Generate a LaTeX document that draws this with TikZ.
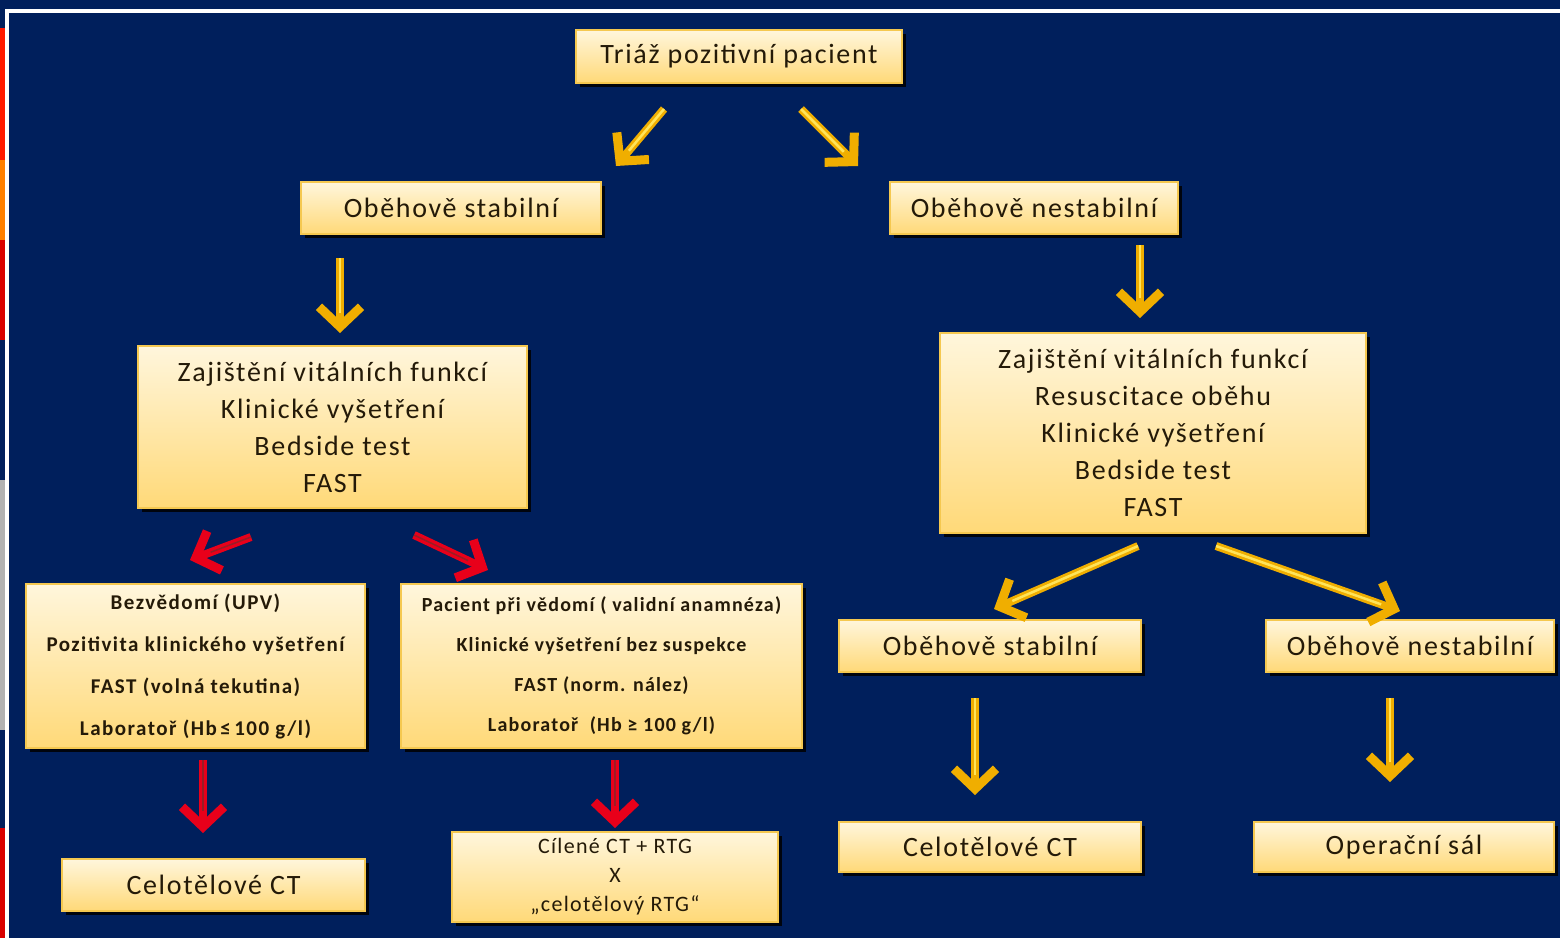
\documentclass[tikz,border=0pt]{standalone}
\usepackage{fontspec}
\setmainfont{Carlito}
\newfontfamily\spaced[LetterSpace=6]{Carlito}
\newfontfamily\spacedb[LetterSpace=7]{Carlito}
\usetikzlibrary{arrows.meta,shadows}
\definecolor{navy}{HTML}{001F5C}
\definecolor{cream}{HTML}{FFF6DC}
\definecolor{yel}{HTML}{FFD978}
\definecolor{boxedge}{HTML}{F5C850}
\definecolor{txt}{HTML}{241A08}
\definecolor{gold}{HTML}{F0AE00}
\definecolor{goldin}{HTML}{FFE45A}
\definecolor{redar}{HTML}{E8001A}
\definecolor{redin}{HTML}{FF3040}
\tikzset{
  box/.style={draw=boxedge, line width=1.5pt, top color=cream, bottom color=yel,
    inner sep=0pt, align=center, text=txt,
    drop shadow={shadow xshift=4pt, shadow yshift=-4pt, fill=black, opacity=0.85}},
  big/.style={font=\spaced\fontsize{28}{37}\selectfont},
  mid/.style={font=\spaced\fontsize{28}{30}\selectfont},
  garrow/.style={draw=gold, line width=8pt,
    -{Straight Barb[length=20pt, width=42pt, line width=9pt]},
    postaction={draw=goldin, line width=2.5pt, shorten >=20pt, -}},
  rarrow/.style={draw=redar, line width=8pt,
    -{Straight Barb[length=20pt, width=42pt, line width=9pt]},
    postaction={draw=redin!60!black, line width=1.5pt, shorten >=22pt, -}},
}
\begin{document}
\begin{tikzpicture}[x=1pt, y=-1pt]
\useasboundingbox (0,0) rectangle (1560,938);
\fill[navy] (0,0) rectangle (1560,938);
% left strip fragments
\fill[red!80!orange] (0,28) rectangle (5,160);
\fill[orange] (0,160) rectangle (5,240);
\fill[red!85!black] (0,240) rectangle (5,340);
\fill[gray!60] (0,480) rectangle (5,730);
\fill[red!85!black] (0,828) rectangle (5,938);
% white frame lines
\fill[white] (5,9) rectangle (1560,13);
\fill[white] (5,9) rectangle (9,938);

% nodes
\node[box, mid, minimum width=326pt, minimum height=53pt] (triaz) at (739,56.5) {Triáž pozitivní pacient};
\node[box, mid, minimum width=300pt, minimum height=52pt] (stabL) at (451,208) {Oběhově stabilní};
\node[box, mid, minimum width=288pt, minimum height=52pt] (nestR) at (1034,208) {Oběhově nestabilní};
\node[box, big, minimum width=389pt, minimum height=162pt] (vitL) at (332.5,427) {Zajištění vitálních funkcí\\Klinické vyšetření\\Bedside test\\FAST};
\node[box, big, minimum width=426pt, minimum height=200pt] (vitR) at (1153,433) {Zajištění vitálních funkcí\\Resuscitace oběhu\\Klinické vyšetření\\Bedside test\\FAST};
\node[box, font=\spacedb\bfseries\fontsize{21}{42}\selectfont, minimum width=339pt, minimum height=164pt] (bezv) at (195.5,666) {Bezvědomí (UPV)\\Pozitivita klinického vyšetření\\FAST (volná tekutina)\\Laboratoř (Hb\,≤\,100 g/l)};
\node[box, font=\spaced\bfseries\fontsize{20}{40}\selectfont, minimum width=401pt, minimum height=164pt] (vedomi) at (601.5,666) {Pacient při vědomí ( validní anamnéza)\\Klinické vyšetření bez suspekce\\FAST (norm. nález)\\Laboratoř \ (Hb ≥ 100 g/l)};
\node[box, mid, minimum width=302pt, minimum height=52pt] (stabR2) at (990,646) {Oběhově stabilní};
\node[box, mid, minimum width=288pt, minimum height=52pt] (nestR2) at (1410,646) {Oběhově nestabilní};
\node[box, mid, minimum width=303pt, minimum height=52pt] (ctL) at (213.5,885) {Celotělové CT};
\node[box, font=\spaced\fontsize{22}{29}\selectfont, minimum width=326pt, minimum height=90pt] (cil) at (615,877) {Cílené CT + RTG\\X\\„celotělový RTG“};
\node[box, mid, minimum width=302pt, minimum height=50pt] (ctR) at (990,847) {Celotělové CT};
\node[box, mid, minimum width=300pt, minimum height=50pt] (sal) at (1404,847) {Operační sál};

% arrow end points
\coordinate (a1s) at (664,109); \coordinate (a1e) at (616,166);
\coordinate (a2s) at (801,109); \coordinate (a2e) at (858,166);
\coordinate (a3s) at (340,258); \coordinate (a3e) at (340,333);
\coordinate (a4s) at (1140,245); \coordinate (a4e) at (1140,318);
\coordinate (a5s) at (251,537); \coordinate (a5e) at (190,560);
\coordinate (a6s) at (414,535); \coordinate (a6e) at (488,570);
\coordinate (a7s) at (203,760); \coordinate (a7e) at (203,833);
\coordinate (a8s) at (615,760); \coordinate (a8e) at (615,828);
\coordinate (a9s) at (1138,546); \coordinate (a9e) at (994,609);
\coordinate (a10s) at (1216,546); \coordinate (a10e) at (1400,611);
\coordinate (a11s) at (975,698); \coordinate (a11e) at (975,795);
\coordinate (a12s) at (1390,698); \coordinate (a12e) at (1390,782);

\draw[garrow] (a1s) -- (a1e);
\draw[garrow] (a2s) -- (a2e);
\draw[garrow] (a3s) -- (a3e);
\draw[garrow] (a4s) -- (a4e);
\draw[rarrow] (a5s) -- (a5e);
\draw[rarrow] (a6s) -- (a6e);
\draw[rarrow] (a7s) -- (a7e);
\draw[rarrow] (a8s) -- (a8e);
\draw[garrow] (a9s) -- (a9e);
\draw[garrow] (a10s) -- (a10e);
\draw[garrow] (a11s) -- (a11e);
\draw[garrow] (a12s) -- (a12e);
\end{tikzpicture}
\end{document}
